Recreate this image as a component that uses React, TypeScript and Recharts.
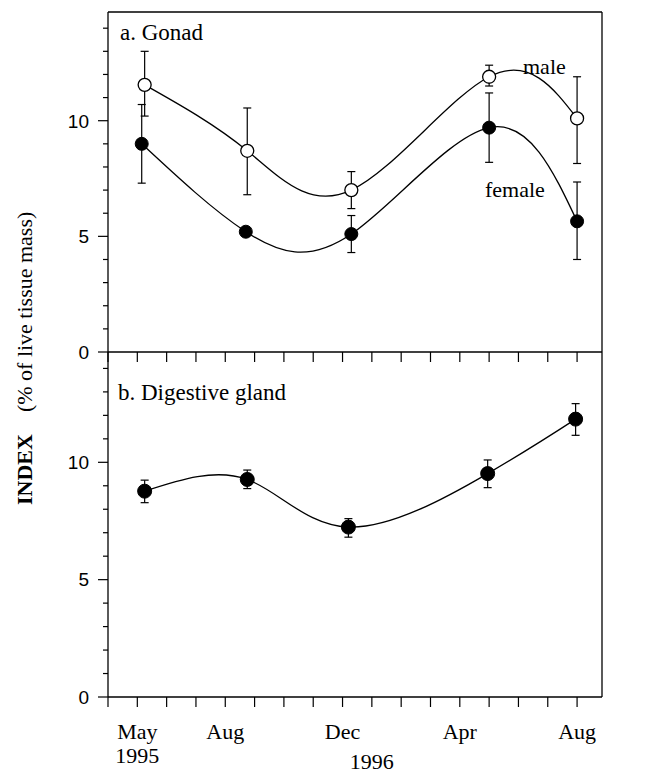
import { LineChart, Line, XAxis, YAxis, ErrorBar, ReferenceLine } from "recharts";

// months counted from Apr 1995 (0) to Aug 1996 (16)
const monthTicks = [0, 1, 2, 3, 4, 5, 6, 7, 8, 9, 10, 11, 12, 13, 14, 15, 16];
const monthLabels = ["", "May", "", "", "Aug", "", "", "", "Dec", "", "", "", "Apr", "", "", "", "Aug"];
const yearLabels = ["", "1995", "", "", "", "", "", "", "", "1996", "", "", "", "", "", "", ""];
const yTicks = [0, 1, 2, 3, 4, 5, 6, 7, 8, 9, 10, 11, 12, 13, 14];

// a. Gonad
const maleMonth = [1.25, 4.75, 8.3, 13.0, 16.0];
const maleGonad = [11.55, 8.7, 7.0, 11.9, 10.1];
const maleGonadHi = [13.0, 10.55, 7.8, 12.4, 11.9];
const maleGonadLo = [10.2, 6.8, 6.2, 11.5, 8.15];

const femaleMonth = [1.15, 4.7, 8.3, 13.0, 16.0];
const femaleGonad = [9.0, 5.2, 5.1, 9.7, 5.65];
const femaleGonadHi = [10.7, 5.3, 5.9, 11.2, 7.35];
const femaleGonadLo = [7.3, 5.1, 4.3, 8.2, 4.0];

// b. Digestive gland
const digestMonth = [1.25, 4.75, 8.2, 12.95, 15.95];
const digestive = [8.77, 9.27, 7.24, 9.52, 11.84];
const digestiveHi = [9.24, 9.67, 7.6, 10.1, 12.5];
const digestiveLo = [8.28, 8.88, 6.81, 8.92, 11.15];

const X_MAX = 16.85;
const Y_MAX = 14.7;

const serif = "'Liberation Serif', 'Times New Roman', serif";
const sans = "'Liberation Sans', Arial, sans-serif";

function build(xs: number[], ys: number[], hi: number[], lo: number[]) {
  return xs.map((x, i) => ({ x, y: ys[i], err: [ys[i] - lo[i], hi[i] - ys[i]] }));
}

const maleData = build(maleMonth, maleGonad, maleGonadHi, maleGonadLo);
const femaleData = build(femaleMonth, femaleGonad, femaleGonadHi, femaleGonadLo);
const digestData = build(digestMonth, digestive, digestiveHi, digestiveLo);

function YTick(props: any) {
  const { x, y, payload } = props;
  const v = payload.value;
  const major = v % 5 === 0;
  return (
    <g>
      <line x1={x - (major ? 10 : 5)} x2={x} y1={y} y2={y} stroke="#000" strokeWidth={1.2} />
      {major && (
        <text x={x - 19} y={y} dy="0.36em" textAnchor="end" fontFamily={sans} fontSize={19} fill="#000">
          {v}
        </text>
      )}
    </g>
  );
}

function XTickPlain(props: any) {
  const { x, y } = props;
  return <line x1={x} x2={x} y1={y} y2={y + 10} stroke="#000" strokeWidth={1.2} />;
}

function XTickLabelled(props: any) {
  const { x, y, payload } = props;
  const i = monthTicks.indexOf(payload.value);
  const yr = yearLabels[i];
  return (
    <g>
      <line x1={x} x2={x} y1={y} y2={y + 10} stroke="#000" strokeWidth={1.2} />
      {monthLabels[i] && (
        <text x={x} y={y + 42} textAnchor="middle" fontFamily={serif} fontSize={22} fill="#000">
          {monthLabels[i]}
        </text>
      )}
      {yr && (
        <text x={x} y={y + (i === 1 ? 66 : 72)} textAnchor="middle" fontFamily={serif} fontSize={22} fill="#000">
          {yr}
        </text>
      )}
    </g>
  );
}

const axisCommon = {
  tickSize: 0,
  tickMargin: 0,
  interval: 0 as const,
  allowDataOverflow: true,
  axisLine: { stroke: "#000", strokeWidth: 1.3 },
  tickLine: false,
};

const lineColor = "#000";

export default function App() {
  return (
    <div style={{ position: "absolute", left: 0, top: 0, width: 654, height: 773, background: "#fff" }}>
      <div style={{ position: "absolute", left: 0, top: 0 }}>
        <LineChart width={654} height={370} margin={{ top: 11, right: 52, left: 0, bottom: 17 }}>
          <XAxis
            type="number"
            dataKey="x"
            domain={[0, X_MAX]}
            ticks={monthTicks}
            height={1}
            tick={<XTickPlain />}
            {...axisCommon}
          />
          <XAxis
            xAxisId="top"
            orientation="top"
            type="number"
            dataKey="x"
            domain={[0, X_MAX]}
            ticks={monthTicks}
            height={1}
            tick={false}
            {...axisCommon}
          />
          <YAxis type="number" domain={[0, Y_MAX]} ticks={yTicks} width={108} tick={<YTick />} {...axisCommon} />
          <ReferenceLine x={X_MAX} stroke="#000" strokeWidth={1.3} ifOverflow="visible" />
          <Line
            data={femaleData}
            dataKey="y"
            type="natural"
            stroke={lineColor}
            strokeWidth={1.3}
            dot={{ r: 6.5, fill: "#000", stroke: "#000", strokeWidth: 1 }}
            isAnimationActive={false}
          >
            <ErrorBar dataKey="err" direction="y" width={4} stroke="#000" strokeWidth={1.2} />
          </Line>
          <Line
            data={maleData}
            dataKey="y"
            type="natural"
            stroke={lineColor}
            strokeWidth={1.3}
            dot={{ r: 6.5, fill: "#fff", stroke: "#000", strokeWidth: 1.3 }}
            isAnimationActive={false}
          >
            <ErrorBar dataKey="err" direction="y" width={4} stroke="#000" strokeWidth={1.2} />
          </Line>
        </LineChart>
      </div>
      <div style={{ position: "absolute", left: 0, top: 340 }}>
        <LineChart width={654} height={433} margin={{ top: 12, right: 52, left: 0, bottom: 75 }}>
          <XAxis
            type="number"
            dataKey="x"
            domain={[0, X_MAX]}
            ticks={monthTicks}
            height={1}
            tick={<XTickLabelled />}
            {...axisCommon}
          />
          <YAxis type="number" domain={[0, Y_MAX]} ticks={yTicks} width={108} tick={<YTick />} {...axisCommon} />
          <ReferenceLine x={X_MAX} stroke="#000" strokeWidth={1.3} ifOverflow="visible" />
          <Line
            data={digestData}
            dataKey="y"
            type="natural"
            stroke={lineColor}
            strokeWidth={1.3}
            dot={{ r: 7, fill: "#000", stroke: "#000", strokeWidth: 1 }}
            isAnimationActive={false}
          >
            <ErrorBar dataKey="err" direction="y" width={4} stroke="#000" strokeWidth={1.2} />
          </Line>
        </LineChart>
      </div>
      <svg
        width={654}
        height={773}
        style={{ position: "absolute", left: 0, top: 0, pointerEvents: "none" }}
      >
        <text x={120} y={40} fontFamily={serif} fontSize={23} fill="#000">
          a. Gonad
        </text>
        <text x={523} y={74} fontFamily={serif} fontSize={22} fill="#000">
          male
        </text>
        <text x={485} y={197} fontFamily={serif} fontSize={22} fill="#000">
          female
        </text>
        <text x={118} y={400} fontFamily={serif} fontSize={23} fill="#000">
          b. Digestive gland
        </text>
        <text transform="rotate(-90, 32, 505)" x={32} y={505} fontFamily={serif} fill="#000">
          <tspan fontWeight="bold" fontSize={22}>
            INDEX
          </tspan>
          <tspan dx={22} fontSize={22}>
            (% of live tissue mass)
          </tspan>
        </text>
      </svg>
    </div>
  );
}
